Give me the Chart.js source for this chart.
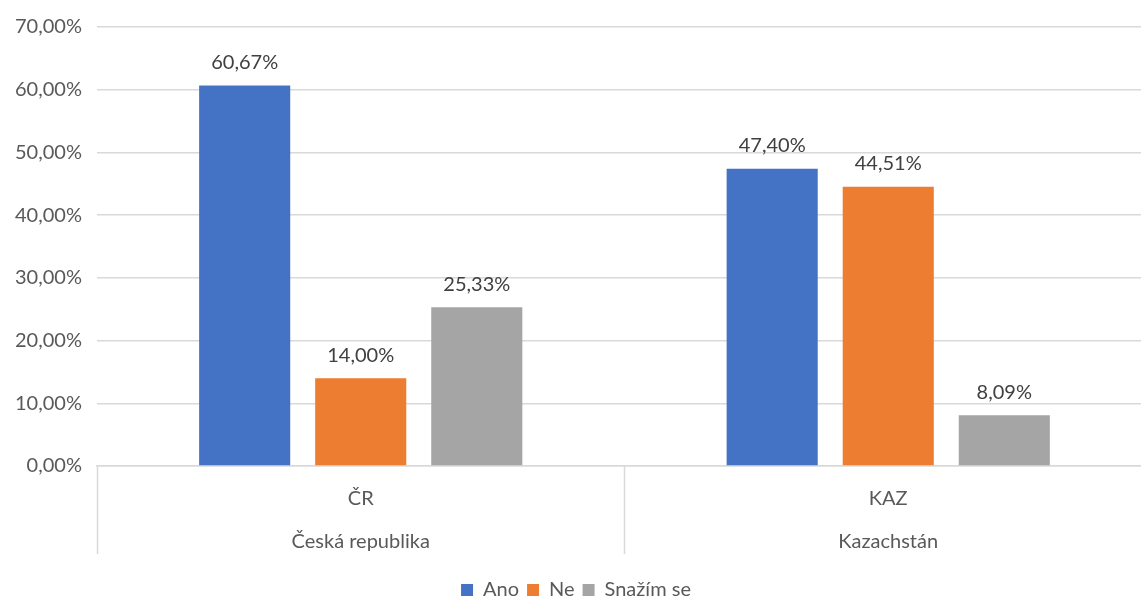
<!DOCTYPE html>
<html>
<head>
<meta charset="utf-8">
<script src="https://cdn.jsdelivr.net/npm/chart.js@4/dist/chart.umd.min.js"></script>
<style>
  html, body { margin: 0; padding: 0; background: #fff; overflow: hidden; }
  #wrap { width: 1152px; height: 610px; }
</style>
</head>
<body>
<div id="wrap"><canvas id="chart"></canvas></div>
<script>
var categories = [["ČR", "Česká republika"], ["KAZ", "Kazachstán"]];
var seriesNames = ["Ano", "Ne", "Snažím se"];
var ano = [60.67, 47.40];
var ne = [14.00, 44.51];
var snazim = [25.33, 8.09];
var colors = ["#4472c4", "#ed7d31", "#a5a5a5"];
var yTicks = [0, 10, 20, 30, 40, 50, 60, 70];

function pct(v) {
    return v.toFixed(2).replace('.', ',') + '%';
}

var fontFamily = "Lato, 'Open Sans', sans-serif";

// value labels above each bar
var valueLabels = {
    id: 'valueLabels',
    afterDatasetsDraw: function(chart) {
        var ctx = chart.ctx;
        ctx.save();
        ctx.font = '20px ' + fontFamily;
        ctx.fillStyle = '#404040';
        ctx.textAlign = 'center';
        ctx.textBaseline = 'bottom';
        chart.data.datasets.forEach(function(ds, i) {
            chart.getDatasetMeta(i).data.forEach(function(bar, j) {
                ctx.fillText(pct(ds.data[j]), bar.x, bar.y - 13);
            });
        });
        ctx.restore();
    }
};

// vertical separators of the category axis
var separators = {
    id: 'separators',
    afterDraw: function(chart) {
        var x = chart.scales.x, ctx = chart.ctx;
        var half = (x.getPixelForValue(1) - x.getPixelForValue(0)) / 2;
        ctx.save();
        ctx.strokeStyle = '#d9d9d9';
        ctx.lineWidth = 1.5;
        for (var i = 0; i <= categories.length; i++) {
            var px = Math.round(x.getPixelForValue(0) - half + i * half * 2) + 0.5;
            ctx.beginPath();
            ctx.moveTo(px, x.top);
            ctx.lineTo(px, x.top + 88);
            ctx.stroke();
        }
        ctx.restore();
    }
};

var data = [ano, ne, snazim];
new Chart(document.getElementById('chart'), {
    type: 'bar',
    data: {
        labels: categories,
        datasets: seriesNames.map(function(name, i) {
            return {
                label: name,
                data: data[i],
                backgroundColor: colors[i],
                barPercentage: 0.785,
                categoryPercentage: 0.66
            };
        })
    },
    options: {
        responsive: true,
        maintainAspectRatio: false,
        animation: false,
        layout: { padding: { top: 0, left: 0, right: 0, bottom: 0 } },
        scales: {
            x: {
                grid: { display: false },
                border: { display: true, color: '#d9d9d9', width: 1.5 },
                afterFit: function(axis) { axis.height += 6; },
                ticks: {
                    color: '#595959',
                    font: { family: fontFamily, size: 20, lineHeight: 2.15 },
                    padding: 3
                }
            },
            y: {
                min: 0,
                max: 70,
                afterBuildTicks: function(axis) {
                    axis.ticks = yTicks.map(function(v) { return { value: v }; });
                },
                grid: { color: '#d9d9d9', lineWidth: 1.5, drawTicks: false },
                border: { display: false },
                ticks: {
                    color: '#595959',
                    font: { family: fontFamily, size: 20 },
                    padding: 15,
                    callback: function(v) { return pct(v); }
                }
            }
        },
        plugins: {
            legend: {
                position: 'bottom',
                labels: {
                    color: '#595959',
                    font: { family: fontFamily, size: 20 },
                    boxWidth: 12,
                    boxHeight: 12,
                    padding: 8
                }
            },
            tooltip: { enabled: false }
        }
    },
    plugins: [valueLabels, separators]
});
</script>
</body>
</html>
